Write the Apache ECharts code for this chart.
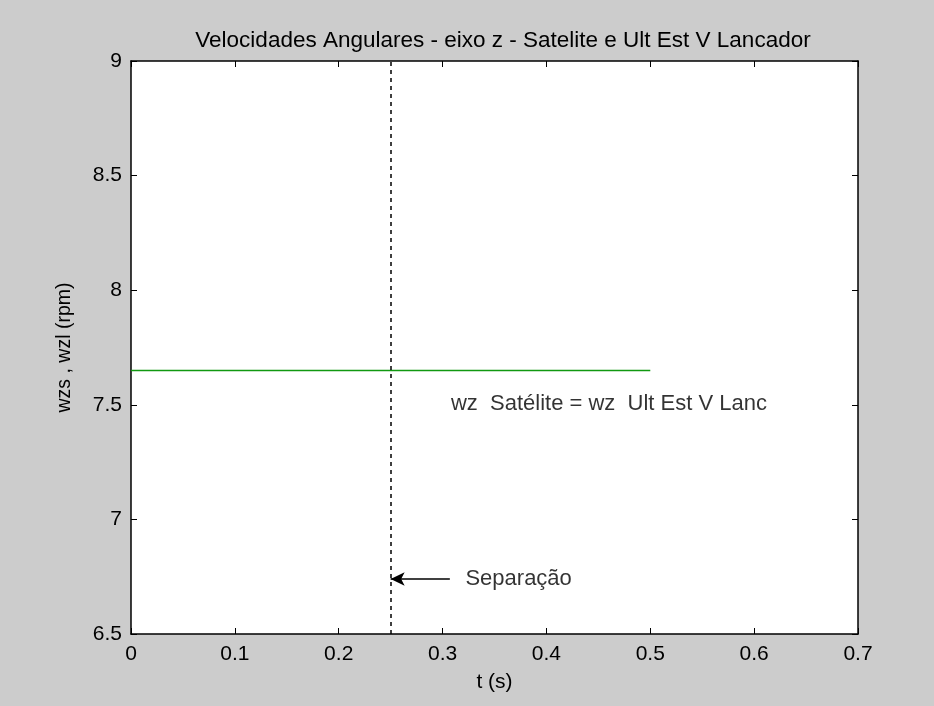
<!DOCTYPE html>
<html>
<head>
<meta charset="utf-8">
<script src="https://cdn.jsdelivr.net/npm/echarts@6/dist/echarts.min.js"></script>
<style>
  html, body { margin: 0; padding: 0; background: #cccccc; }
  #chart { width: 934px; height: 706px; }
</style>
</head>
<body>
<div id="chart"></div>
<script>
// Angular velocity about z: satellite and last launcher stage
const titleText = 'Velocidades Angulares - eixo z - Satelite e Ult Est V Lancador';
const xName = 't (s)';
const yName = 'wzs , wzl (rpm)';

const xTicks = [0, 0.1, 0.2, 0.3, 0.4, 0.5, 0.6, 0.7];
const yTicks = [6.5, 7, 7.5, 8, 8.5, 9];

// wz time history (constant spin rate)
const tValues = [0, 0.5];
const wzValues = [7.65, 7.65];

// separation instant and annotations
const separationTime = 0.25;
const arrowFrom = [0.307, 6.74];
const arrowTo = [0.25, 6.74];
const separationLabel = { t: 0.322, w: 6.74, text: 'Separação' };
const equalityLabel = { t: 0.308, w: 7.505, text: 'wz  Satélite = wz  Ult Est V Lanc' };

const FONT = 'Liberation Sans';
const chart = echarts.init(document.getElementById('chart'));

const tickStyle = { show: true, inside: true, length: 6, lineStyle: { color: '#000', width: 1 } };
const lineStyleAxis = { show: true, onZero: false, lineStyle: { color: '#000', width: 1.5 } };

chart.setOption({
  backgroundColor: '#cccccc',
  animation: false,
  title: {
    text: titleText,
    left: 498, top: 24, textAlign: 'center',
    textStyle: { fontFamily: FONT, fontSize: 22.5, fontWeight: 'normal', color: '#000' }
  },
  grid: { left: 131, right: 76, top: 61, bottom: 72, show: true, backgroundColor: '#ffffff', borderWidth: 0 },
  xAxis: [{
    type: 'value', min: 0, max: 0.7, interval: 0.1,
    name: xName, nameLocation: 'middle', nameGap: 38,
    nameTextStyle: { fontFamily: FONT, fontSize: 21, color: '#000' },
    axisLine: lineStyleAxis, axisTick: tickStyle, splitLine: { show: false },
    axisLabel: { fontFamily: FONT, fontSize: 21, color: '#000', margin: 10,
      formatter: v => xTicks.includes(+v.toFixed(1)) ? String(+v.toFixed(1)) : '' }
  }, {
    type: 'value', min: 0, max: 0.7, interval: 0.1, position: 'top',
    axisLine: lineStyleAxis, axisTick: tickStyle, axisLabel: { show: false }, splitLine: { show: false }
  }],
  yAxis: [{
    type: 'value', min: 6.5, max: 9, interval: 0.5,
    name: yName, nameLocation: 'middle', nameGap: 56,
    nameTextStyle: { fontFamily: FONT, fontSize: 19.5, color: '#000' },
    axisLine: lineStyleAxis, axisTick: tickStyle, splitLine: { show: false },
    axisLabel: { fontFamily: FONT, fontSize: 21, color: '#000', margin: 9,
      formatter: v => yTicks.includes(+v.toFixed(1)) ? String(+v.toFixed(1)) : '' }
  }, {
    type: 'value', min: 6.5, max: 9, interval: 0.5, position: 'right',
    axisLine: lineStyleAxis, axisTick: tickStyle, axisLabel: { show: false }, splitLine: { show: false }
  }],
  series: [{
    type: 'line',
    data: tValues.map((t, i) => [t, wzValues[i]]),
    showSymbol: false,
    lineStyle: { color: '#119911', width: 1.5 },
    z: 3,
    markLine: {
      silent: true, symbol: ['none', 'none'], label: { show: false },
      lineStyle: { color: '#000', type: [4, 4], width: 1.5 },
      data: [{ xAxis: separationTime }]
    }
  }, {
    type: 'line',
    data: [arrowFrom, arrowTo],
    showSymbol: false,
    lineStyle: { opacity: 0 },
    markLine: {
      silent: true, symbol: ['none', 'arrow'], symbolSize: [10, 14], label: { show: false },
      lineStyle: { color: '#000', type: 'solid', width: 1.5 },
      data: [[{ coord: arrowFrom }, { coord: arrowTo }]]
    }
  }, {
    type: 'scatter',
    symbolSize: 0,
    data: [
      { value: [separationLabel.t, separationLabel.w], name: separationLabel.text },
      { value: [equalityLabel.t, equalityLabel.w], name: equalityLabel.text }
    ],
    label: {
      show: true, position: 'right', distance: 0,
      formatter: p => p.name,
      fontFamily: FONT, fontSize: 22, color: '#000'
    }
  }]
});
</script>
</body>
</html>
